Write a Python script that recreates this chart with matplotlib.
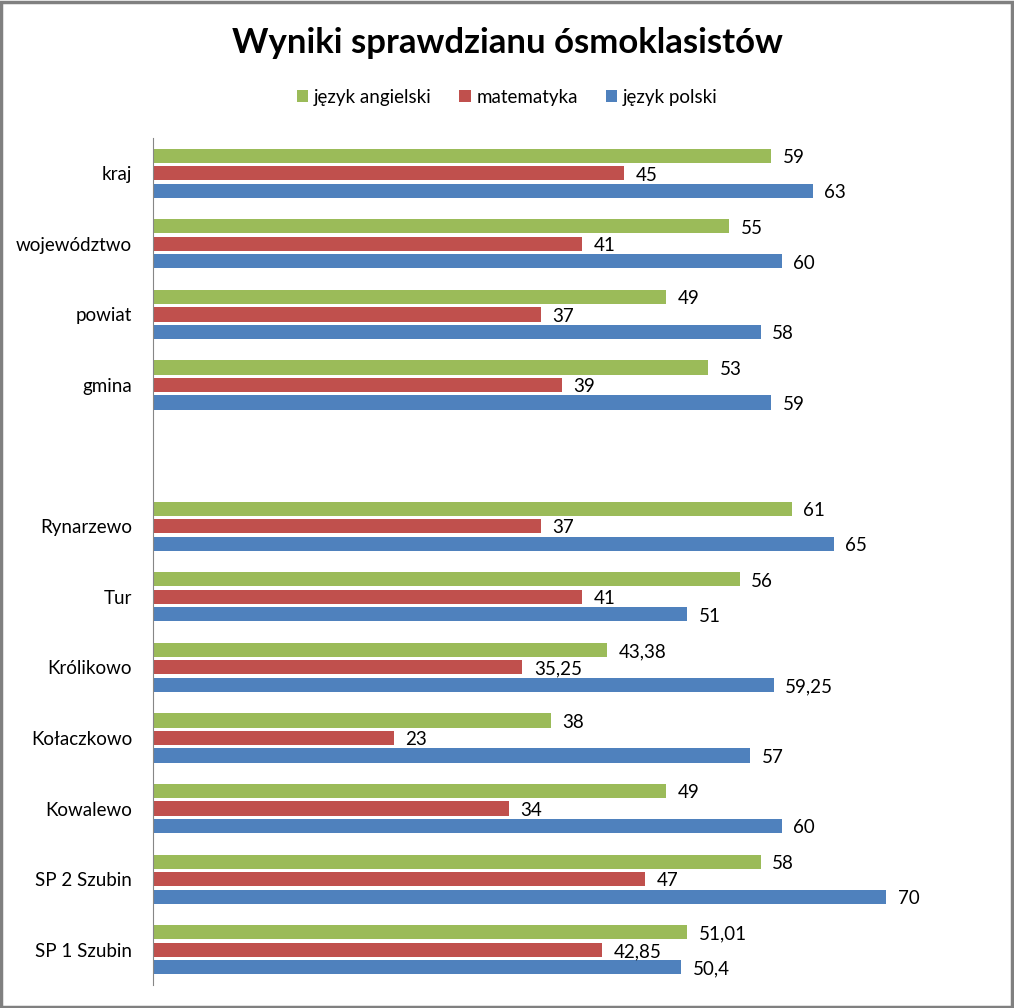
import numpy as np
import matplotlib.pyplot as plt

plt.rcParams['font.family'] = ['Lato', 'DejaVu Sans']

# kategorie od dołu do góry (pusta pozycja = przerwa)
kategorie = ['SP 1 Szubin', 'SP 2 Szubin', 'Kowalewo', 'Kołaczkowo', 'Królikowo',
             'Tur', 'Rynarzewo', '', 'gmina', 'powiat', 'województwo', 'kraj']
angielski = [51.01, 58, 49, 38, 43.38, 56, 61, None, 53, 49, 55, 59]
matematyka = [42.85, 47, 34, 23, 35.25, 41, 37, None, 39, 37, 41, 45]
polski = [50.4, 70, 60, 57, 59.25, 51, 65, None, 59, 58, 60, 63]

serie = [('język angielski', angielski, '#9BBB59', 0.248),
         ('matematyka', matematyka, '#C0504D', 0.0),
         ('język polski', polski, '#4F81BD', -0.248)]

fig = plt.figure(figsize=(10.14, 10.08), dpi=100)
ax = fig.add_axes([153 / 1014, 23 / 1008, (991 - 153) / 1014, (985 - 138) / 1008])

y = np.arange(len(kategorie))
for nazwa, wartosci, kolor, off in serie:
    yy = [yi + off for yi, v in zip(y, wartosci) if v is not None]
    vv = [v for v in wartosci if v is not None]
    ax.barh(yy, vv, height=0.2, color=kolor, label=nazwa)
    for yi, v in zip(yy, vv):
        txt = ('%g' % v).replace('.', ',')
        ax.text(v + 1.1, yi - 0.025, txt, va='center', ha='left', fontsize=13.5)

ax.set_xlim(0, 80)
ax.set_ylim(-0.5, len(kategorie) - 0.5)
ax.set_yticks(y)
ax.set_yticklabels(kategorie, fontsize=13.5)
ax.tick_params(axis='y', length=0, pad=15)
ax.set_xticks([])
for s in ['top', 'right', 'bottom']:
    ax.spines[s].set_visible(False)
ax.spines['left'].set_color('#868686')

fig.text(0.5, 1 - 43 / 1008, 'Wyniki sprawdzianu ósmoklasistów', ha='center', va='center',
         fontsize=25, fontweight='bold')
fig.legend(loc='center', bbox_to_anchor=(0.5, 1 - 97 / 1008), ncol=3, frameon=False,
           fontsize=13.5, handlelength=0.6, handleheight=0.6, handletextpad=0.3, columnspacing=1.5)

# ramka wokół wykresu
fig.patches.append(plt.Rectangle((0.001, 0.001), 0.997, 0.997, transform=fig.transFigure,
                                 fill=False, edgecolor='#808080', linewidth=2.5))

fig.savefig('out.png', dpi=100)
